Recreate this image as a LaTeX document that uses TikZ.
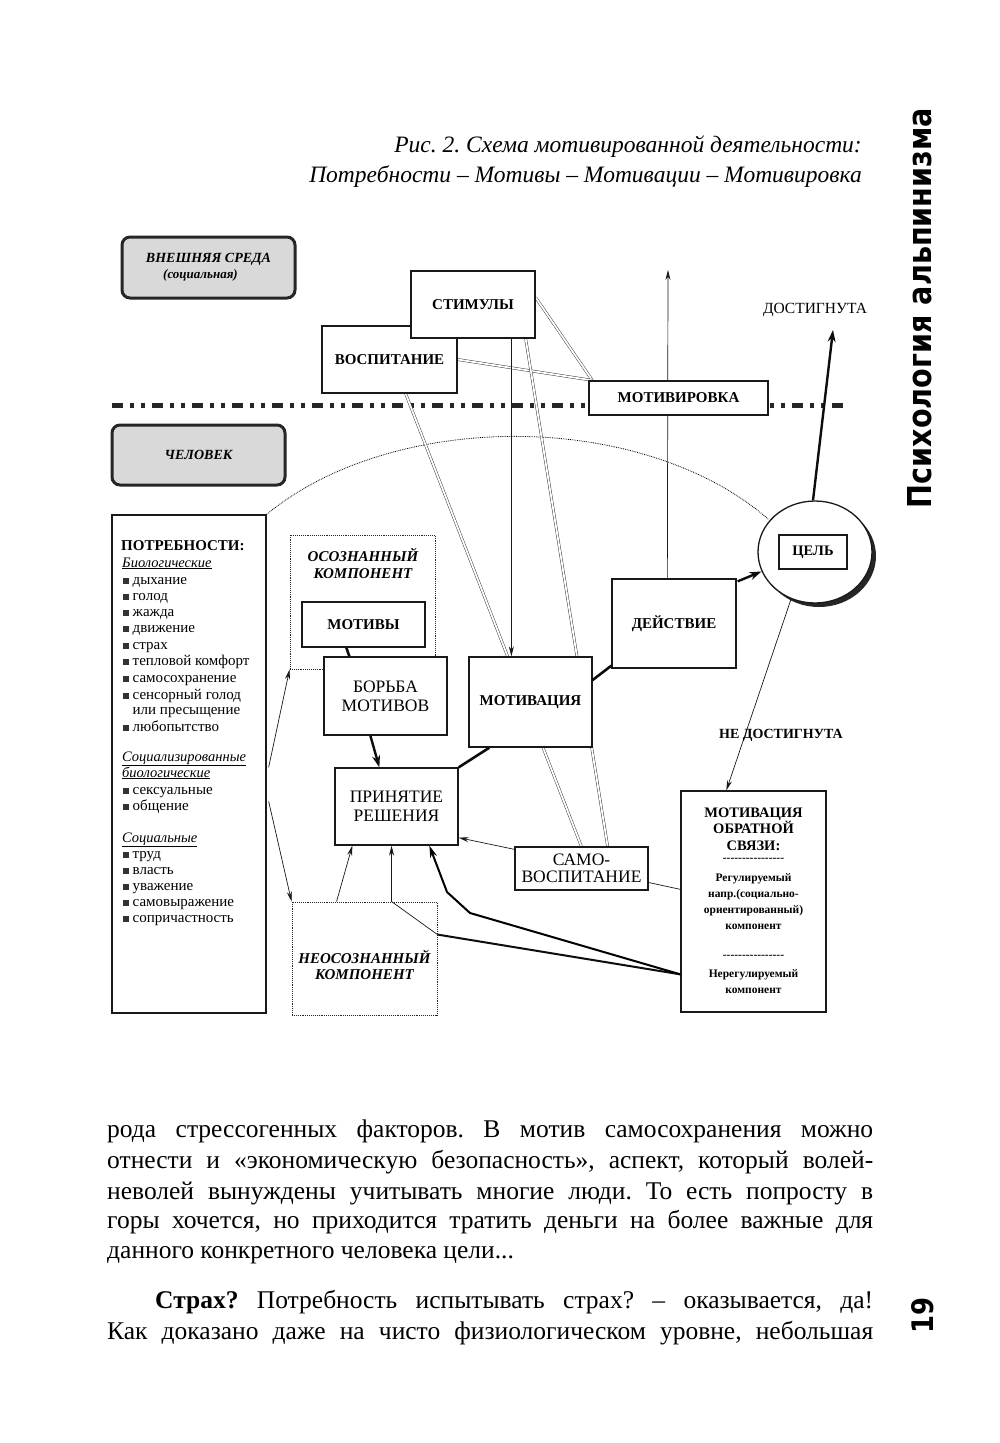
\documentclass[tikz,border=0pt]{standalone}
\usepackage{fontspec}
\usepackage{graphicx}
\setmainfont{Liberation Serif}
\newfontfamily\sidefont{DejaVu Sans}
\usetikzlibrary{arrows.meta,calc,shapes.geometric}
\pgfdeclarelayer{bg}
\pgfsetlayers{bg,main}
\frenchspacing
\newcommand\bul{\textcolor{black!80}{\rule{6pt}{6pt}}\hspace{3.5pt}}
\newcommand\dashrow{-{}-{}-{}-{}-{}-{}-{}-{}-{}-{}-{}-{}-{}-{}-{}-{}}
\tikzset{
  box/.style={draw=black!90, line width=1.3pt, fill=white, inner sep=0pt, align=center},
  dotbox/.style={draw=black!85, densely dotted, line width=0.9pt, inner sep=0pt},
  dbl/.style={draw=black!80, double=white, double distance=1.8pt, line width=0.45pt},
  tarrow/.style={draw=black!90, line width=0.7pt, -{Stealth[length=10pt,width=5pt]}},
  tline/.style={draw=black!90, line width=0.7pt},
  thk/.style={draw=black!95, line width=2.6pt},
  tharrow/.style={draw=black!95, line width=2.4pt, -{Stealth[length=12pt,width=8pt]}},
  envbox/.style={draw=black!85, line width=3pt, rounded corners=8pt, fill=black!15, inner sep=0pt, align=center},
  bl/.style={font=\fontsize{15}{17}\selectfont\bfseries},
  rg/.style={font=\fontsize{17.5}{19}\selectfont},
  bi/.style={font=\fontsize{15}{16.5}\selectfont\bfseries\itshape},
  lst/.style={anchor=base west, inner sep=0pt, font=\fontsize{15}{16}\selectfont},
  body/.style={anchor=base west, inner sep=0pt, font=\fontsize{25.5}{30}\selectfont},
}
\begin{document}
\begin{tikzpicture}[x=1pt,y=-1pt]
\useasboundingbox (0,0) rectangle (1000,1443);

% caption
\node[anchor=base east, inner sep=0pt, font=\fontsize{23.5}{26}\selectfont\itshape] (cap1) at (862,152) {Рис. 2. Схема мотивированной деятельности:};
\node[anchor=base east, inner sep=0pt, font=\fontsize{23.5}{26}\selectfont\itshape] (cap2) at (862,182) {Потребности – Мотивы – Мотивации – Мотивировка};

% environment labels
\node[envbox, minimum width=173pt, minimum height=61pt, font=\fontsize{14}{16}\selectfont\bfseries\itshape] (env) at (208.5,267.5) {ВНЕШНЯЯ СРЕДА\\{\fontsize{13}{15}\selectfont(социальная)}\hspace*{16pt}};
\node[envbox, minimum width=173pt, minimum height=60pt, font=\fontsize{14}{16}\selectfont\bfseries\itshape] (man) at (198.5,455) {ЧЕЛОВЕК};

% boxes
\node[box, bl, minimum width=135pt, minimum height=67pt] (vosp) at (389.5,359.5) {ВОСПИТАНИЕ};
\node[box, bl, minimum width=124pt, minimum height=67pt] (stim) at (473,304.5) {СТИМУЛЫ};
\node[box, bl, minimum width=179pt, minimum height=34pt] (motr) at (678.5,398) {МОТИВИРОВКА};
\node[dotbox, minimum width=145pt, minimum height=134pt] (osozn) at (362.5,602) {};
\node[bi, align=center, inner sep=0pt] (osoznt) at (363,563.5) {ОСОЗНАННЫЙ\\КОМПОНЕНТ};
\node[box, bl, minimum width=123pt, minimum height=45pt] (motivy) at (363.5,624.5) {МОТИВЫ};
\node[box, rg, minimum width=123pt, minimum height=78pt] (borba) at (385.5,696) {БОРЬБА\\МОТИВОВ};
\node[box, bl, minimum width=123pt, minimum height=90pt] (motv) at (530.5,702) {МОТИВАЦИЯ};
\node[box, bl, minimum width=124pt, minimum height=89pt] (deyst) at (674,623.5) {ДЕЙСТВИЕ};
\node[box, rg, minimum width=123pt, minimum height=77pt] (prin) at (396.5,806.5) {ПРИНЯТИЕ\\РЕШЕНИЯ};
\node[box, rg, minimum width=133pt, minimum height=43pt] (samo) at (581.5,868.5) {САМО-\\[-2pt]ВОСПИТАНИЕ};
\node[dotbox, minimum width=145pt, minimum height=113pt] (neos) at (364.5,958.5) {};
\node[bi, align=center, inner sep=0pt] (neost) at (364.5,965) {НЕОСОЗНАННЫЙ\\КОМПОНЕНТ};
\node[box, minimum width=154pt, minimum height=498pt] (needs) at (189,764) {};
\node[box, minimum width=145pt, minimum height=221pt] (fb) at (753.5,901.5) {};

% needs list
\node[anchor=base west, inner sep=0pt, font=\fontsize{15}{17}\selectfont\bfseries] (nh) at (121,550) {ПОТРЕБНОСТИ:};
\node[lst, font=\fontsize{14.5}{16}\selectfont\itshape] (nh1) at (122,567) {\underline{Биологические}};
\foreach \yy/\txt [count=\i] in {580/дыхание,596/голод,612/жажда,628/движение,645/страх,661/тепловой комфорт,678/самосохранение,695/сенсорный голод,727/любопытство,790/сексуальные,806/общение,854/труд,870/власть,886/уважение,902/самовыражение,918/сопричастность}
  \node[lst] (ni\i) at (123,\yy+4) {\bul\txt};
\node[lst] (ni0) at (132.5,714) {или пресыщение};
\node[lst, font=\fontsize{14.5}{16}\selectfont\itshape] (nh2) at (122,761) {\underline{Социализированные}};
\node[lst, font=\fontsize{14.5}{16}\selectfont\itshape] (nh3) at (122,777) {\underline{биологические}};
\node[lst, font=\fontsize{14.5}{16}\selectfont\itshape] (nh4) at (122,842) {\underline{Социальные}};

% feedback text
\node[font=\fontsize{14.5}{16.5}\selectfont\bfseries, align=center, inner sep=0pt] (fbh) at (753.5,829) {МОТИВАЦИЯ\\ОБРАТНОЙ\\СВЯЗИ:};
\node[font=\fontsize{11.5}{12}\selectfont\bfseries, inner sep=0pt] (fbd1) at (753.5,860) {\dashrow};
\node[font=\fontsize{11.5}{16}\selectfont\bfseries, align=center, inner sep=0pt] (fbr) at (753.5,901.5) {Регулируемый\\напр.(социально-\\ориентированный)\\компонент};
\node[font=\fontsize{11.5}{12}\selectfont\bfseries, inner sep=0pt] (fbd2) at (753.5,957) {\dashrow};
\node[font=\fontsize{11.5}{16}\selectfont\bfseries, align=center, inner sep=0pt] (fbn) at (753.5,981.5) {Нерегулируемый\\компонент};

% goal
\fill[black!85] (819,556) ellipse [x radius=57, y radius=51];
\node[ellipse, draw=black!90, line width=1.3pt, fill=white, minimum width=114pt, minimum height=102pt, inner sep=0pt] (goalc) at (815,552) {};
\node[box, minimum width=68pt, minimum height=34pt, line width=1.1pt, font=\fontsize{14.5}{16}\selectfont\bfseries] (goal) at (813,552) {ЦЕЛЬ};

% background connectors
\begin{pgfonlayer}{bg}
  \fill[white] (0,0) rectangle (1000,1443);
  \draw[densely dotted, line width=0.8pt] (needs.north east) arc[start angle=-142.4, end angle=-35.8, x radius=313, y radius=200];
  \coordinate (hl1) at (112,405);
  \coordinate (hl2) at (845,405);
  \draw[line width=5pt, black!85, dash pattern=on 11pt off 7pt on 4pt off 7pt on 4pt off 7pt] (hl1) -- (hl2);
  \draw[dbl] ($(stim.east)+(0,-7)$) -- ($(motr.north west)+(4,0)$);
  \draw[dbl] (vosp.east) -- ($(motr.north west)+(4,0)$);
  \draw[dbl] ($(vosp.south east)+(-52,0)$) -- ($(samo.north west)+(67,0)$);
  \draw[dbl] ($(stim.south east)+(-10,0)$) -- ($(samo.north east)+(-41,0)$);
  \coordinate (dA) at ($(deyst.north west)+(56,0)$);
  \coordinate (topA) at (668,270);
  \draw[tarrow] (dA) -- (topA);
\end{pgfonlayer}

% connectors
\coordinate (sA) at ($(stim.south west)+(101,0)$);
\draw[tarrow] (sA) -- (sA |- motv.north);
\draw[thk] ($(motivy.south west)+(45,0)$) -- ($(borba.north west)+(26,0)$);
\draw[tharrow] ($(borba.south west)+(47,0)$) -- ($(prin.north west)+(45,0)$);
\draw[thk] ($(motv.south west)+(21,0)$) -- (prin.north east);
\draw[thk] ($(motv.east)+(0,-22)$) -- ($(deyst.south west)+(0,-3)$);
\draw[tharrow] ($(deyst.north east)+(1,3)$) -- (goalc.200);
\coordinate (dost) at (833,330);
\draw[tharrow] ($(goalc.north)+(-2,0)$) -- (dost);
\node[font=\fontsize{15.5}{17}\selectfont] (dostl) at (815,310) {ДОСТИГНУТА};
\draw[tarrow] (goalc.243) -- ($(fb.north west)+(46,0)$);
\node[font=\fontsize{14}{16}\selectfont\bfseries] (ndost) at (781,735) {НЕ ДОСТИГНУТА};
\draw[tarrow] ($(samo.north west)+(0,3)$) -- ($(prin.south east)+(0,-8)$);
\draw[tline] ($(samo.east)+(0,14)$) -- ($(fb.north west)+(0,99)$);
\draw[tarrow] ($(needs.north east)+(2,253)$) -- (osozn.south west);
\draw[tarrow] ($(needs.north east)+(2,287)$) -- (neos.north west);
\draw[tarrow] ($(neos.north west)+(45,0)$) -- ($(prin.south west)+(18,0)$);
\coordinate (nb) at ($(neos.north west)+(100,0)$);
\draw[tarrow] (nb) -- (nb |- prin.south);
\coordinate (fbA) at ($(fb.north west)+(0,184)$);
\coordinate (nc) at ($(neos.north east)+(0,33)$);
\draw[thk, line width=2pt] (fbA) -- (nc);
\draw[tline] (nc) -- (nb);
\coordinate (k1) at (470,913);
\coordinate (k2) at (447,892);
\draw[line width=2pt, -{Stealth[length=12pt,width=7pt]}] (fbA) -- (k1) -- (k2) -- ($(prin.south west)+(95,0)$);

% side title and page number
\node[rotate=90, inner sep=0pt] (side) at (920,308) {\resizebox{400pt}{24pt}{\sidefont\bfseries Психология альпинизма}};
\node[rotate=90, inner sep=0pt] (pnum) at (923,1315) {\resizebox{36pt}{22pt}{\sidefont\bfseries 19}};

% body text
\node[body] (b1) at (107,1137) {\makebox[766pt][s]{рода стрессогенных факторов. В мотив самосохранения можно}};
\node[body] (b2) at (107,1168) {\makebox[766pt][s]{отнести и «экономическую безопасность», аспект, который волей-}};
\node[body] (b3) at (107,1199) {\makebox[766pt][s]{неволей вынуждены учитывать многие люди. То есть попросту в}};
\node[body] (b4) at (107,1228) {\makebox[766pt][s]{горы хочется, но приходится тратить деньги на более важные для}};
\node[body] (b5) at (107,1258) {данного конкретного человека цели...};
\node[body] (b6) at (155,1308) {\makebox[718pt][s]{\textbf{Страх?} Потребность испытывать страх? – оказывается, да!}};
\node[body] (b7) at (107,1339) {\makebox[766pt][s]{Как доказано даже на чисто физиологическом уровне, небольшая}};
\end{tikzpicture}
\end{document}
